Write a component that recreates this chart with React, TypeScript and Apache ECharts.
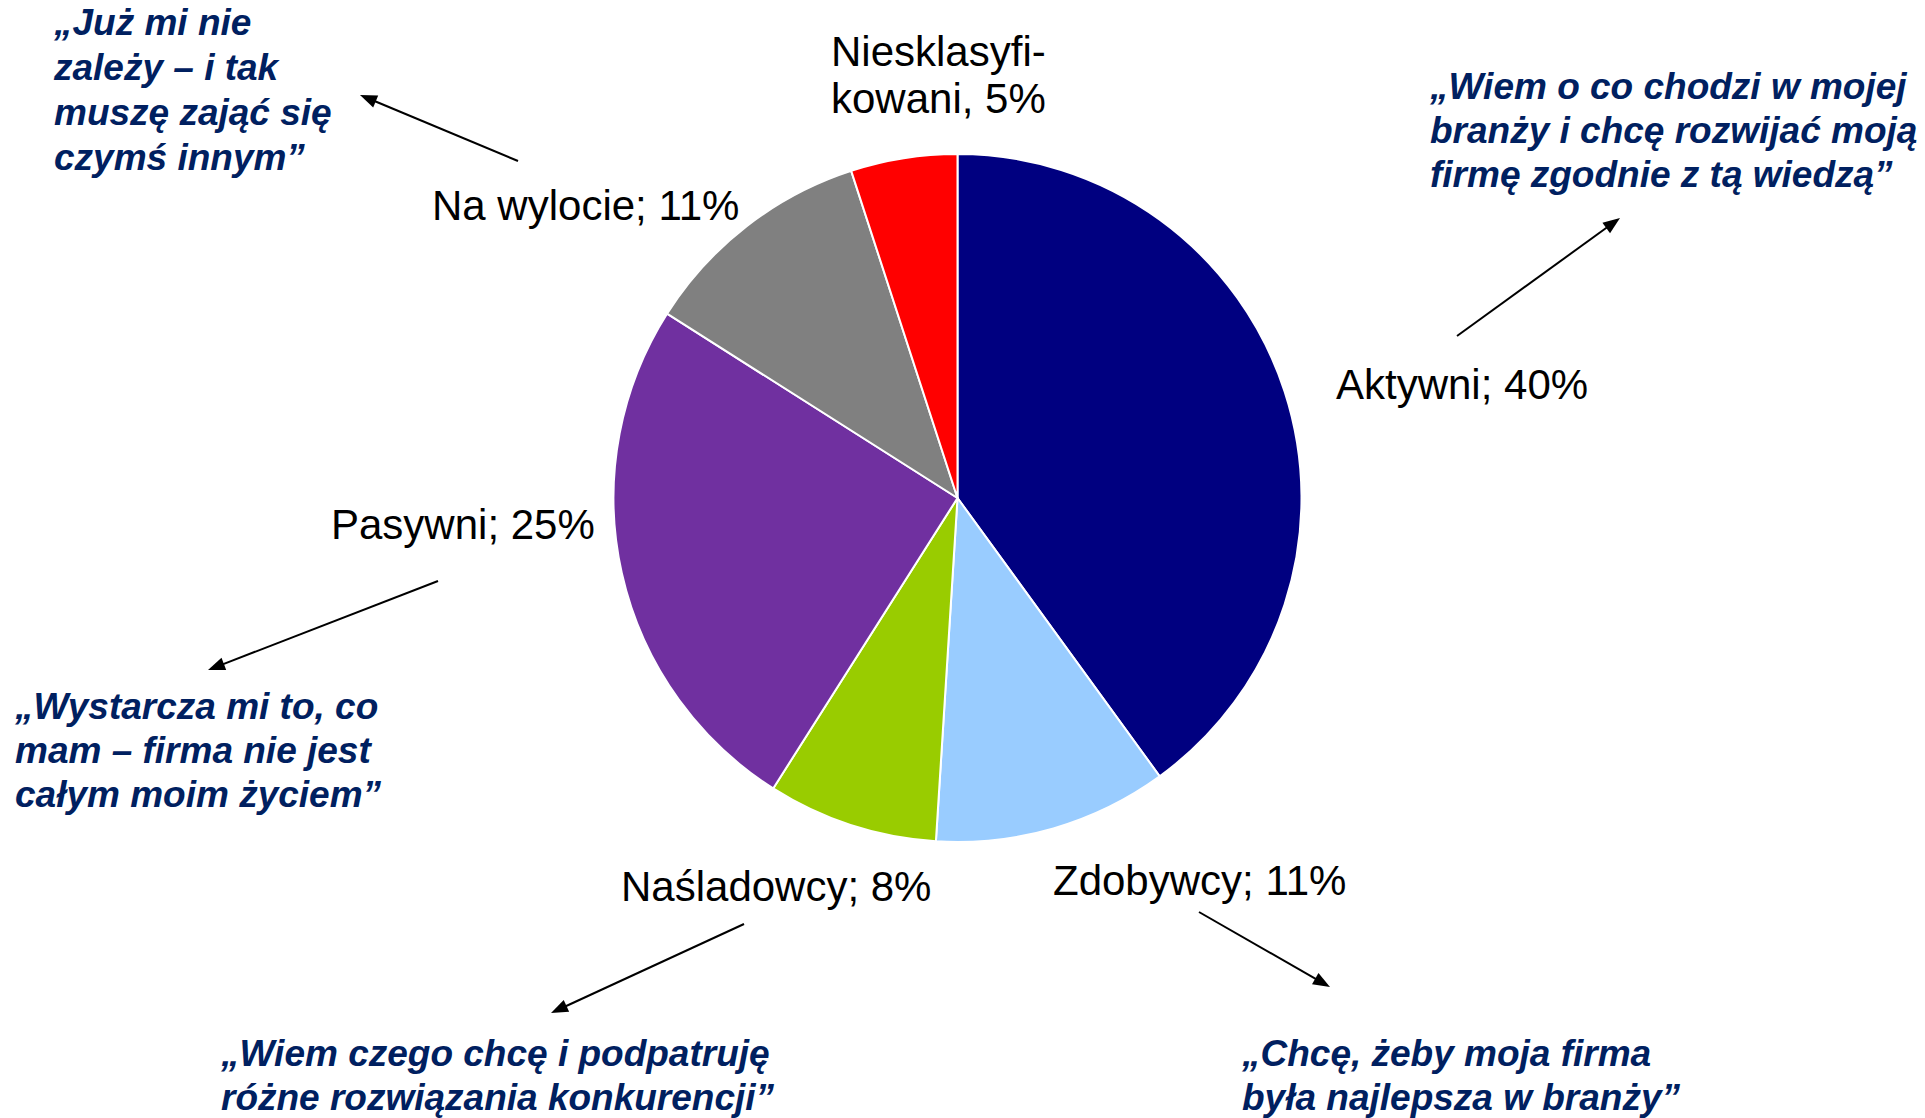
import React, { useEffect, useRef } from "react";
import * as echarts from "echarts";

// ---- data ----
const categories = ["Aktywni", "Zdobywcy", "Naśladowcy", "Pasywni", "Na wylocie", "Niesklasyfikowani"];
const values = [40, 11, 8, 25, 11, 5];
const labelNames = ["Aktywni", "Zdobywcy", "Naśladowcy", "Pasywni", "Na wylocie", "Niesklasyfi-\nkowani"];
const labelSeparators = ["; ", "; ", "; ", "; ", "; ", ", "];

const quote1 = ["„Już mi nie", "zależy – i tak", "muszę zająć się", "czymś innym”"];
const quote2 = ["„Wiem o co chodzi w mojej", "branży i chcę rozwijać moją", "firmę zgodnie z tą wiedzą”"];
const quote3 = ["„Wystarcza mi to, co", "mam – firma nie jest", "całym moim życiem”"];
const quote4 = ["„Wiem czego chcę i podpatruję", "różne rozwiązania konkurencji”"];
const quote5 = ["„Chcę, żeby moja firma", "była najlepsza w branży”"];

// ---- styles / layout ----
const colors = ["#000080", "#99CCFF", "#99CC00", "#7030A0", "#808080", "#FF0000"];
const labelPos = [
  [1336, 384],
  [1053, 880],
  [621, 886],
  [331, 524],
  [432, 205],
  [831, 75],
];
const quoteLayout = [
  { lines: quote1, x: 54, top: 0, lh: 45 },
  { lines: quote2, x: 1430, top: 64, lh: 44 },
  { lines: quote3, x: 15, top: 684, lh: 44 },
  { lines: quote4, x: 221, top: 1031, lh: 44 },
  { lines: quote5, x: 1242, top: 1031, lh: 44 },
];
const arrows = [
  [518, 161, 360, 95],
  [1457, 336, 1620, 218],
  [438, 581, 208, 670],
  [744, 924, 551, 1013],
  [1199, 912, 1330, 987],
];

const FONT = '"Liberation Sans", Arial, Helvetica, sans-serif';

function arrowGraphics() {
  const out: any[] = [];
  arrows.forEach(([x1, y1, x2, y2]) => {
    const dx = x2 - x1;
    const dy = y2 - y1;
    const len = Math.sqrt(dx * dx + dy * dy);
    const ux = dx / len;
    const uy = dy / len;
    const hl = 17;
    const hw = 6.5;
    const bx = x2 - ux * hl;
    const by = y2 - uy * hl;
    out.push({
      type: "line",
      shape: { x1, y1, x2: bx + ux * 2, y2: by + uy * 2 },
      style: { stroke: "#000", lineWidth: 2 },
    });
    out.push({
      type: "polygon",
      shape: {
        points: [
          [x2, y2],
          [bx - uy * hw, by + ux * hw],
          [bx + uy * hw, by - ux * hw],
        ],
      },
      style: { fill: "#000" },
    });
  });
  return out;
}

function quoteGraphics() {
  return quoteLayout.map((q) => ({
    type: "text",
    x: q.x,
    y: q.top,
    style: {
      text: q.lines.join("\n"),
      fill: "#002060",
      fontFamily: FONT,
      fontSize: 37,
      fontWeight: "bold",
      fontStyle: "italic",
      lineHeight: q.lh,
      align: "left",
      verticalAlign: "top",
    },
  }));
}

export default function App() {
  const ref = useRef<HTMLDivElement>(null);
  useEffect(() => {
    document.body.style.margin = "0";
    if (!ref.current) return;
    const chart = echarts.init(ref.current, undefined, { renderer: "svg" });
    chart.setOption({
      animation: false,
      backgroundColor: "#ffffff",
      series: [
        {
          type: "pie",
          center: [957.5, 498],
          radius: 344,
          startAngle: 90,
          clockwise: true,
          avoidLabelOverlap: false,
          itemStyle: { borderColor: "#ffffff", borderWidth: 2 },
          label: {
            show: true,
            position: "outside",
            fontFamily: FONT,
            fontSize: 42,
            color: "#000",
            lineHeight: 47,
            formatter: (p: any) => labelNames[p.dataIndex] + labelSeparators[p.dataIndex] + p.value + "%",
          },
          labelLine: { show: false },
          labelLayout: (p: any) => ({
            x: labelPos[p.dataIndex][0],
            y: labelPos[p.dataIndex][1],
            align: "left",
            verticalAlign: "middle",
          }),
          emphasis: { disabled: true },
          data: categories.map((c, i) => ({
            name: c,
            value: values[i],
            itemStyle: { color: colors[i] },
          })),
        },
      ],
      graphic: [...arrowGraphics(), ...quoteGraphics()],
    });
    return () => chart.dispose();
  }, []);
  return <div ref={ref} style={{ width: 1925, height: 1118 }} />;
}
